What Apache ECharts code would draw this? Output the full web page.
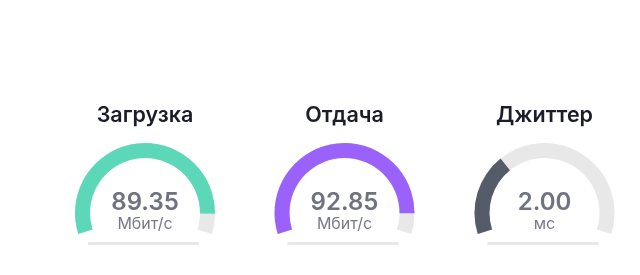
<!DOCTYPE html>
<html>
<head>
<meta charset="utf-8">
<script src="https://cdn.jsdelivr.net/npm/echarts@6/dist/echarts.min.js"></script>
<style>html,body{margin:0;padding:0;background:#fff}#c{width:640px;height:275px}</style>
</head>
<body>
<div id="c"></div>
<script>
const names = ['Загрузка', 'Отдача', 'Джиттер'];
const values = [89.35, 92.85, 2.00];
const units = ['Мбит/с', 'Мбит/с', 'мс'];
const gaugeMax = [97, 101, 6.27];
const colors = ['#5cd8b8', '#9a62fa', '#555b68'];
const centersX = [145, 344.5, 544.5];

const chart = echarts.init(document.getElementById('c'));
const cy = 213, R = 70, W = 15;
const series = names.map((n, i) => ({
  type: 'gauge',
  center: [centersX[i], cy],
  radius: R,
  startAngle: 197.5,
  endAngle: -17.5,
  min: 0,
  max: gaugeMax[i],
  pointer: { show: false },
  progress: { show: true, width: W, roundCap: false, itemStyle: { color: colors[i] } },
  axisLine: { lineStyle: { width: W, color: [[1, '#e8e8e8']] } },
  axisTick: { show: false },
  splitLine: { show: false },
  axisLabel: { show: false },
  anchor: { show: false },
  title: {
    offsetCenter: [0, -97],
    color: '#1b1d29',
    fontSize: 21.5,
    fontWeight: 600,
    fontFamily: 'Inter'
  },
  detail: {
    offsetCenter: [0, 0],
    fontWeight: 'normal',
    formatter: v => '{v|' + v.toFixed(2) + '}\n{u|' + units[i] + '}',
    rich: {
      v: { fontSize: 24, fontWeight: 600, color: '#70737f', fontFamily: 'Inter', lineHeight: 22 },
      u: { fontSize: 16, fontWeight: 'normal', color: '#777a86', fontFamily: 'Inter', lineHeight: 21 }
    }
  },
  data: [{ value: values[i], name: n }]
}));

const graphic = centersX.map(x => ({
  type: 'rect',
  shape: { x: x - 57, y: 242, width: 111, height: 3 },
  style: { fill: '#e8e8e8' },
  silent: true
}));

chart.setOption({ animation: false, series, graphic });
</script>
</body>
</html>
